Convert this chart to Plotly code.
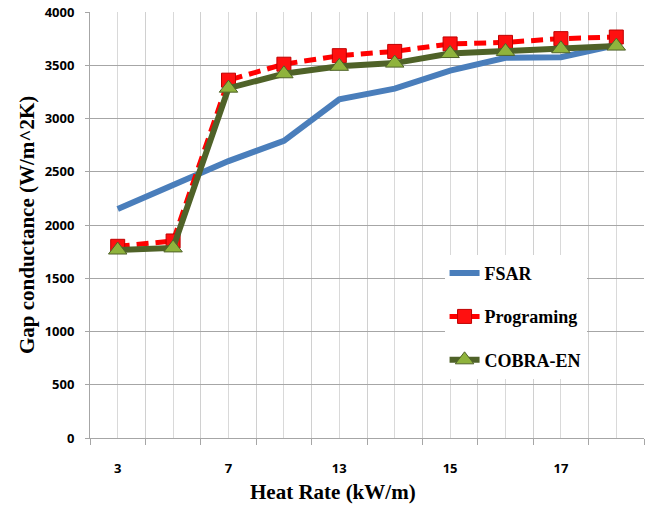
import plotly.graph_objects as go

# Heat rate categories (only every other one carries a printed label)
heat_rate_labels = ["3", "", "7", "", "13", "", "15", "", "17", ""]

# Gap conductance (W/m^2K) per series
fsar = [2150, 2380, 2600, 2790, 3180, 3280, 3450, 3570, 3575, 3690]
programing = [1800, 1850, 3360, 3510, 3590, 3630, 3700, 3715, 3750, 3765]
cobra_en = [1765, 1785, 3285, 3420, 3490, 3520, 3610, 3630, 3655, 3680]

y_ticks = list(range(0, 4001, 500))

x_pos = list(range(len(heat_rate_labels)))
boundaries = [i - 0.5 for i in range(len(heat_rate_labels) + 1)]

fig = go.Figure()

fig.add_trace(go.Scatter(
    x=x_pos, y=fsar, name="FSAR", mode="lines",
    line=dict(color="#4a7ebb", width=6),
    legendgroup="a",
))
fig.add_trace(go.Scatter(
    x=x_pos, y=programing, name="Programing", mode="lines+markers",
    line=dict(color="#ff0000", width=5, dash="12px,7px"),
    marker=dict(symbol="square", size=14, color="#ff1010",
                line=dict(color="#c00000", width=1)),
    legendgroup="b",
))
fig.add_trace(go.Scatter(
    x=x_pos, y=cobra_en, name="COBRA-EN", mode="lines+markers",
    line=dict(color="#4f6228", width=6),
    marker=dict(symbol="triangle-up", size=16, color="#8fb33c",
                line=dict(color="#4f6228", width=1)),
    legendgroup="c",
))

fig.update_layout(
    width=646, height=506,
    margin=dict(l=90, r=2, t=12, b=68),
    paper_bgcolor="white", plot_bgcolor="white",
    showlegend=True,
    legend=dict(
        x=0.64, y=0.43, xanchor="left", yanchor="top",
        bgcolor="white", borderwidth=0,
        traceorder="grouped", tracegroupgap=17,
        itemwidth=30,
        font=dict(family="Liberation Serif", size=18, color="black", weight="bold"),
    ),
    font=dict(family="Open Sans", color="black"),
)

fig.update_xaxes(
    range=[-0.5, len(heat_rate_labels) - 0.5],
    tickmode="array", tickvals=x_pos, ticktext=heat_rate_labels,
    ticks="", showgrid=True, gridcolor="#d9d9d9", gridwidth=1,
    showline=True, linecolor="#a6a6a6", linewidth=1,
    tickfont=dict(family="Open Sans", size=13, color="black", weight="bold"),
    ticklabelstandoff=18,
    minor=dict(tickmode="array", tickvals=boundaries, ticks="outside",
               ticklen=6, tickcolor="#a6a6a6", showgrid=True,
               gridcolor="#d0d0d0", gridwidth=1),
    zeroline=False,
)
fig.update_yaxes(
    range=[0, 4000], tickmode="array", tickvals=y_ticks,
    ticks="outside", ticklen=4, tickcolor="#a6a6a6",
    showgrid=True, gridcolor="#a6a6a6", gridwidth=1,
    showline=True, linecolor="#a6a6a6", linewidth=1,
    tickfont=dict(family="Open Sans", size=13, color="black", weight="bold"),
    ticklabelstandoff=8,
    zeroline=False,
)

fig.add_annotation(
    text="Heat Rate (kW/m)", xref="paper", yref="paper",
    x=(333 - 90) / 554, y=-(492 - 437.7) / 425.7,
    xanchor="center", yanchor="middle", showarrow=False,
    font=dict(family="Liberation Serif", size=21, color="black", weight="bold"),
)
fig.add_annotation(
    text="Gap conductance (W/m^2K)", xref="paper", yref="paper",
    x=-(90 - 27) / 554, y=0.5, textangle=-90,
    xanchor="center", yanchor="middle", showarrow=False,
    font=dict(family="Liberation Serif", size=21, color="black", weight="bold"),
)

fig.write_html("out.html")
